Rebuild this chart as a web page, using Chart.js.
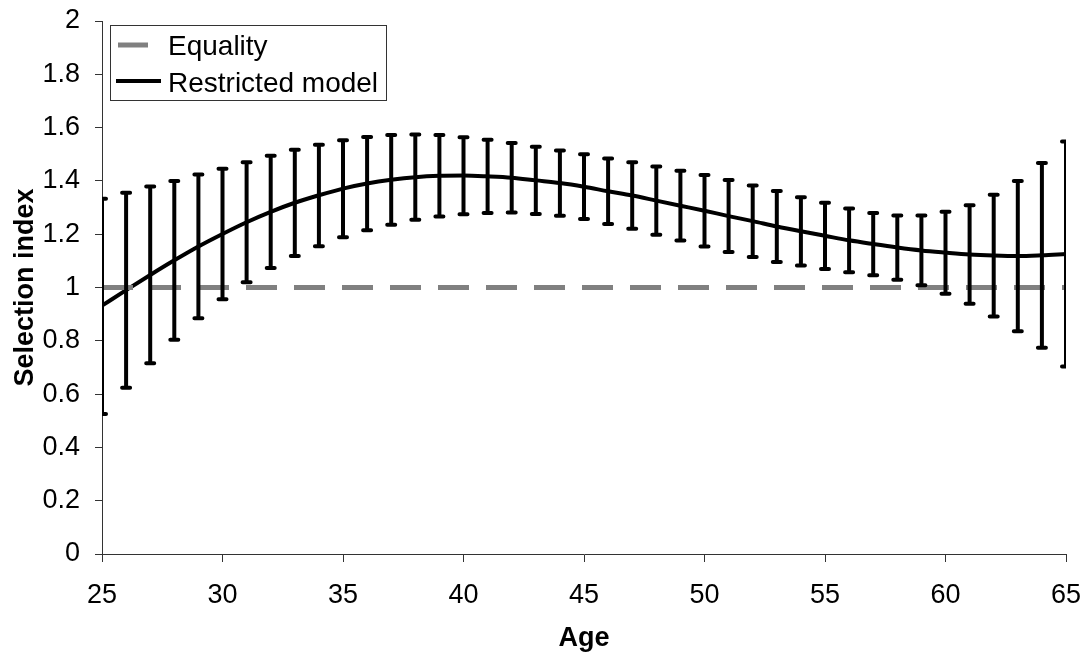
<!DOCTYPE html>
<html>
<head>
<meta charset="utf-8">
<script src="https://cdn.jsdelivr.net/npm/chart.js@4.4.0/dist/chart.umd.min.js"></script>
<style>
  html,body{margin:0;padding:0;background:#fff;}
  #wrap{width:1087px;height:653px;position:relative;}
</style>
</head>
<body>
<div id="wrap"><canvas id="chart"></canvas></div>
<script>
// Data
const ages = [25,26,27,28,29,30,31,32,33,34,35,36,37,38,39,40,41,42,43,44,45,46,47,48,49,50,51,52,53,54,55,56,57,58,59,60,61,62,63,64,65];
const fitted = [0.932,0.990,1.047,1.102,1.154,1.201,1.245,1.284,1.318,1.346,1.371,1.390,1.404,1.414,1.419,1.420,1.417,1.412,1.402,1.392,1.378,1.361,1.345,1.326,1.307,1.288,1.268,1.249,1.229,1.211,1.194,1.177,1.163,1.150,1.139,1.131,1.124,1.120,1.118,1.121,1.126];
const upper = [1.333,1.356,1.379,1.400,1.424,1.446,1.470,1.494,1.517,1.536,1.553,1.565,1.572,1.574,1.572,1.564,1.554,1.542,1.528,1.514,1.500,1.484,1.470,1.454,1.438,1.422,1.403,1.383,1.362,1.339,1.318,1.296,1.280,1.270,1.270,1.284,1.309,1.348,1.400,1.467,1.548];
const lower = [0.525,0.624,0.716,0.804,0.885,0.956,1.020,1.073,1.118,1.155,1.189,1.215,1.235,1.254,1.266,1.275,1.280,1.281,1.276,1.269,1.257,1.238,1.220,1.198,1.176,1.154,1.133,1.114,1.096,1.083,1.069,1.057,1.046,1.029,1.008,0.977,0.939,0.891,0.836,0.774,0.704];
const equalityLevel = 1;
const xTickLabels = ['25','30','35','40','45','50','55','60','65'];
const yTickLabels = ['0','0.2','0.4','0.6','0.8','1','1.2','1.4','1.6','1.8','2'];
const seriesNames = ['Equality','Restricted model'];

const FONT = '"Liberation Sans", Arial, sans-serif';
const AXIS = '#333';

// vertical error bars with caps, drawn through the scales
const errorBars = {
  id:'errorBars',
  afterDatasetsDraw(chart){
    const {ctx, chartArea:a, scales:{x,y}} = chart;
    ctx.save();
    ctx.beginPath(); ctx.rect(a.left, a.top, a.right-a.left, a.bottom-a.top); ctx.clip();
    ctx.strokeStyle='#000';
    ages.forEach((age,i)=>{
      const px=x.getPixelForValue(age), yt=y.getPixelForValue(upper[i]), yb=y.getPixelForValue(lower[i]);
      ctx.lineWidth=4; ctx.lineCap='butt';
      ctx.beginPath(); ctx.moveTo(px,yt); ctx.lineTo(px,yb); ctx.stroke();
      ctx.lineCap='round';
      ctx.beginPath(); ctx.moveTo(px-4,yt); ctx.lineTo(px+4,yt); ctx.moveTo(px-4,yb); ctx.lineTo(px+4,yb); ctx.stroke();
    });
    ctx.restore();
  }
};

// boxed legend inside the plot, top left
const boxLegend = {
  id:'boxLegend',
  afterDraw(chart){
    const {ctx, chartArea:a} = chart;
    const left=a.left+8, top=a.top+4;
    ctx.save();
    ctx.font='28px '+FONT;
    const textX=left+58;
    const w=Math.max(...seriesNames.map(s=>ctx.measureText(s).width));
    ctx.fillStyle='#fff'; ctx.fillRect(left,top,textX-left+w+8,75);
    ctx.strokeStyle=AXIS; ctx.lineWidth=1;
    ctx.strokeRect(Math.round(left)+0.5,Math.round(top)+0.5,Math.round(textX-left+w+8),75);
    ctx.lineCap='butt';
    ctx.strokeStyle='#808080'; ctx.lineWidth=5;
    ctx.beginPath(); ctx.moveTo(left+8,top+20); ctx.lineTo(left+38,top+20); ctx.stroke();
    ctx.strokeStyle='#000'; ctx.lineWidth=4;
    ctx.beginPath(); ctx.moveTo(left+6,top+56); ctx.lineTo(left+51,top+56); ctx.stroke();
    ctx.fillStyle='#000'; ctx.textBaseline='alphabetic'; ctx.textAlign='left';
    ctx.fillText(seriesNames[0],textX,top+30);
    ctx.fillText(seriesNames[1],textX,top+66.5);
    ctx.restore();
  }
};

const ctx = document.getElementById('chart').getContext('2d');
new Chart(ctx,{
  type:'line',
  data:{datasets:[
    {label:seriesNames[0], data:[{x:ages[0],y:equalityLevel},{x:ages[ages.length-1],y:equalityLevel}],
     borderColor:'#808080', borderWidth:5, borderDash:[31,17], pointRadius:0, fill:false},
    {label:seriesNames[1], data:ages.map((a,i)=>({x:a,y:fitted[i]})),
     borderColor:'#000', borderWidth:4, pointRadius:0, fill:false, cubicInterpolationMode:'monotone'}
  ]},
  options:{
    responsive:true, maintainAspectRatio:false, animation:false,
    layout:{padding:{left:0,right:21,top:21,bottom:0}},
    plugins:{legend:{display:false}, tooltip:{enabled:false}},
    scales:{
      x:{type:'linear', min:25, max:65,
         grid:{display:true, drawOnChartArea:false, drawTicks:true, tickLength:8, color:AXIS},
         border:{display:true, color:AXIS, width:1},
         ticks:{stepSize:5, padding:17, color:'#000', font:{family:FONT,size:27}, maxRotation:0,
                callback:(v,i)=>xTickLabels[i]},
         title:{display:true, text:'Age', color:'#000', font:{family:FONT,size:27,weight:'bold',lineHeight:1.1}, padding:{top:0,bottom:0}},
         afterFit(s){ s.height=99; s.paddingLeft=0; s.paddingRight=0; }},
      y:{min:0, max:2,
         grid:{display:true, drawOnChartArea:false, drawTicks:true, tickLength:7, color:AXIS},
         border:{display:true, color:AXIS, width:1},
         ticks:{stepSize:0.2, padding:15, color:'#000', font:{family:FONT,size:27},
                callback:(v,i)=>yTickLabels[i]},
         title:{display:true, text:'Selection index', color:'#000', font:{family:FONT,size:27,weight:'bold'}, padding:{top:9,bottom:0}},
         afterFit(s){ s.width=102; s.paddingTop=0; s.paddingBottom=0; }}
    }
  },
  plugins:[errorBars, boxLegend]
});
</script>
</body>
</html>
